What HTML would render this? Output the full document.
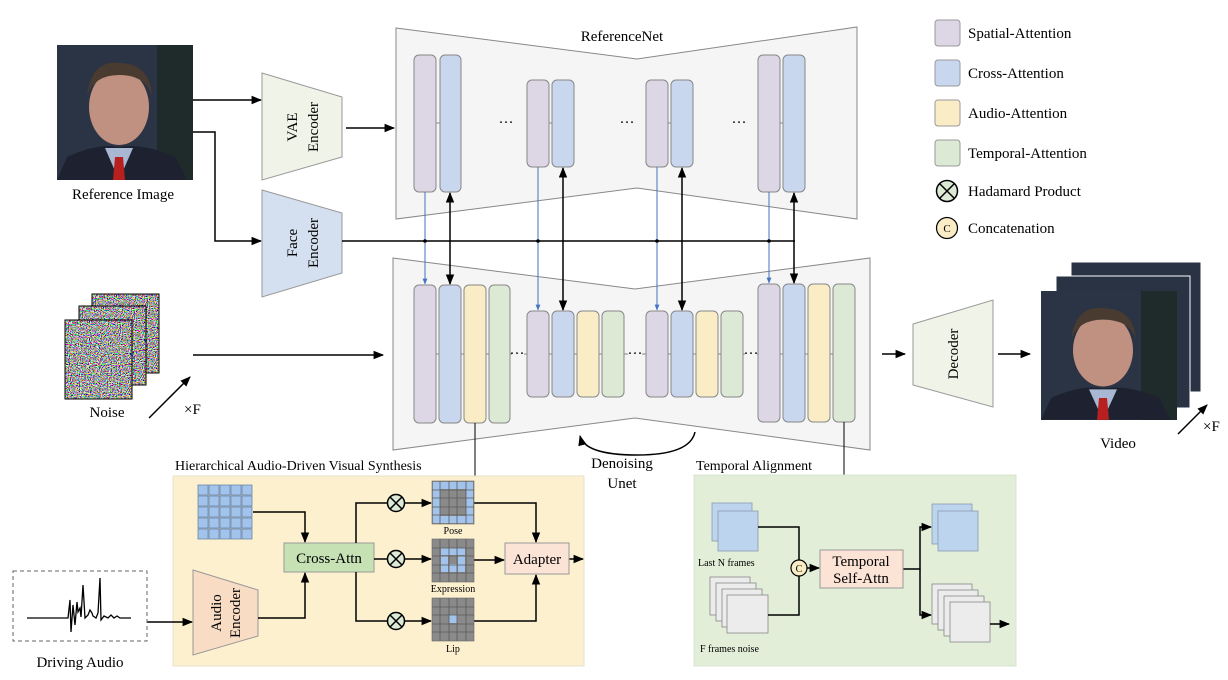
<!DOCTYPE html>
<html><head><meta charset="utf-8"><style>
html,body{margin:0;padding:0;background:#fff;}
svg{display:block;font-family:"Liberation Serif",serif;}
</style></head><body>
<svg width="1228" height="680" viewBox="0 0 1228 680" xmlns="http://www.w3.org/2000/svg">
<defs>
<marker id="ah" viewBox="0 0 10 10" refX="9" refY="5" markerWidth="7" markerHeight="7" orient="auto-start-reverse"><path d="M0,1 L10,5 L0,9 z" fill="#000"/></marker>
<marker id="ab" viewBox="0 0 10 10" refX="9" refY="5" markerWidth="6" markerHeight="6" orient="auto"><path d="M0,1 L10,5 L0,9 z" fill="#4472c4"/></marker>
<filter id="nz" x="0" y="0" width="100%" height="100%"><feTurbulence type="fractalNoise" baseFrequency="0.9" numOctaves="1" seed="3"/><feColorMatrix type="matrix" values="4.5 0 0 0 -1.8  0 4.5 0 0 -1.8  0 0 4.5 0 -1.8  0 0 0 0 1"/></filter>
<g id="photo">
<rect x="0" y="0" width="136" height="135" fill="#2b3445"/>
<rect x="100" y="0" width="36" height="135" fill="#1f2a2a"/>
<ellipse cx="62" cy="62" rx="30" ry="38" fill="#c09080"/>
<path d="M30,50 Q35,15 62,18 Q92,18 95,50 Q88,30 62,30 Q38,30 30,50z" fill="#4a3b30"/>
<path d="M0,135 L10,112 Q40,98 62,102 Q88,98 118,112 L130,135z" fill="#1e2230"/>
<path d="M48,103 L62,135 L76,103z" fill="#a9b8d2"/>
<path d="M58,112 L66,112 L68,135 L56,135z" fill="#b82020"/>
</g>
<g id="ng"><rect width="67" height="79" fill="#777" filter="url(#nz)"/></g>
</defs>

<use href="#photo" x="57" y="45"/>
<text x="123" y="199" font-size="15" text-anchor="middle">Reference Image</text>

<line x1="193" y1="100" x2="261" y2="100" stroke="#000" stroke-width="1.5" marker-end="url(#ah)"/>
<polyline points="193,132 215,132 215,241 261,241" fill="none" stroke="#000" stroke-width="1.5" marker-end="url(#ah)"/>

<polygon points="262,73 342,97 342,157 262,180" fill="#eff3e8" stroke="#999" stroke-width="1"/>
<text transform="translate(297,127) rotate(-90)" font-size="15" text-anchor="middle">VAE</text>
<text transform="translate(318,127) rotate(-90)" font-size="15" text-anchor="middle">Encoder</text>
<line x1="346" y1="128" x2="394" y2="128" stroke="#000" stroke-width="1.5" marker-end="url(#ah)"/>

<polygon points="262,190 342,213 342,273 262,297" fill="#d4e0f0" stroke="#999" stroke-width="1"/>
<text transform="translate(297,243) rotate(-90)" font-size="15" text-anchor="middle">Face</text>
<text transform="translate(318,243) rotate(-90)" font-size="15" text-anchor="middle">Encoder</text>
<line x1="342" y1="241" x2="795" y2="241" stroke="#000" stroke-width="1.5"/>

<polygon points="396,28 637,59 857,27 857,219 637,188 396,219" fill="#f5f5f5" stroke="#888" stroke-width="1"/>
<text x="622" y="41" font-size="15" text-anchor="middle">ReferenceNet</text>
<g stroke="#888" stroke-width="1">
<line x1="436" y1="123" x2="440" y2="123"/><line x1="549" y1="123" x2="552" y2="123"/><line x1="668" y1="123" x2="671" y2="123"/><line x1="780" y1="123" x2="783" y2="123"/>
<rect x="414" y="55" width="22" height="137" rx="5" fill="#ddd6e5"/>
<rect x="440" y="55" width="21" height="137" rx="5" fill="#c8d6ee"/>
<rect x="527" y="80" width="22" height="87" rx="5" fill="#ddd6e5"/>
<rect x="552" y="80" width="22" height="87" rx="5" fill="#c8d6ee"/>
<rect x="646" y="80" width="22" height="87" rx="5" fill="#ddd6e5"/>
<rect x="671" y="80" width="22" height="87" rx="5" fill="#c8d6ee"/>
<rect x="758" y="55" width="22" height="137" rx="5" fill="#ddd6e5"/>
<rect x="783" y="55" width="22" height="137" rx="5" fill="#c8d6ee"/>
</g>
<text x="506" y="127" font-size="15" text-anchor="middle">···</text>
<text x="627" y="127" font-size="15" text-anchor="middle">···</text>
<text x="739" y="127" font-size="15" text-anchor="middle">···</text>

<polygon points="393,258 635,289 870,258 870,450 635,418 393,450" fill="#f5f5f5" stroke="#888" stroke-width="1"/>
<line x1="436" y1="354" x2="833" y2="354" stroke="#888" stroke-width="1"/>
<rect x="512" y="345" width="12" height="18" fill="#f5f5f5"/><rect x="628" y="345" width="14" height="18" fill="#f5f5f5"/><rect x="745" y="345" width="12" height="18" fill="#f5f5f5"/>
<g stroke="#888" stroke-width="1">
<rect x="414" y="285" width="22" height="138" rx="5" fill="#ddd6e5"/>
<rect x="439" y="285" width="22" height="138" rx="5" fill="#c8d6ee"/>
<rect x="464" y="285" width="22" height="138" rx="5" fill="#faedc5"/>
<rect x="489" y="285" width="21" height="138" rx="5" fill="#dce9d4"/>
<rect x="527" y="311" width="22" height="86" rx="5" fill="#ddd6e5"/>
<rect x="552" y="311" width="22" height="86" rx="5" fill="#c8d6ee"/>
<rect x="577" y="311" width="22" height="86" rx="5" fill="#faedc5"/>
<rect x="602" y="311" width="22" height="86" rx="5" fill="#dce9d4"/>
<rect x="646" y="311" width="22" height="86" rx="5" fill="#ddd6e5"/>
<rect x="671" y="311" width="22" height="86" rx="5" fill="#c8d6ee"/>
<rect x="696" y="311" width="22" height="86" rx="5" fill="#faedc5"/>
<rect x="721" y="311" width="22" height="86" rx="5" fill="#dce9d4"/>
<rect x="758" y="284" width="22" height="138" rx="5" fill="#ddd6e5"/>
<rect x="783" y="284" width="22" height="138" rx="5" fill="#c8d6ee"/>
<rect x="808" y="284" width="22" height="138" rx="5" fill="#faedc5"/>
<rect x="833" y="284" width="22" height="138" rx="5" fill="#dce9d4"/>
</g>
<text x="517" y="358" font-size="15" text-anchor="middle">···</text>
<text x="635" y="358" font-size="15" text-anchor="middle">···</text>
<text x="751" y="358" font-size="15" text-anchor="middle">···</text>

<g stroke="#4472c4" stroke-width="1" fill="none">
<line x1="425" y1="192" x2="425" y2="284" marker-end="url(#ab)"/>
<line x1="538" y1="167" x2="538" y2="310" marker-end="url(#ab)"/>
<line x1="657" y1="167" x2="657" y2="310" marker-end="url(#ab)"/>
<line x1="769" y1="192" x2="769" y2="283" marker-end="url(#ab)"/>
</g>
<g stroke="#000" stroke-width="1.5" fill="none">
<line x1="450" y1="193" x2="450" y2="284" marker-start="url(#ah)" marker-end="url(#ah)"/>
<line x1="563" y1="168" x2="563" y2="310" marker-start="url(#ah)" marker-end="url(#ah)"/>
<line x1="682" y1="168" x2="682" y2="310" marker-start="url(#ah)" marker-end="url(#ah)"/>
<line x1="794" y1="193" x2="794" y2="283" marker-start="url(#ah)" marker-end="url(#ah)"/>
</g>
<g fill="#000"><circle cx="425" cy="241" r="1.8"/><circle cx="538" cy="241" r="1.8"/><circle cx="657" cy="241" r="1.8"/><circle cx="769" cy="241" r="1.8"/></g>

<path d="M695,432 Q690,455 637,455 Q585,455 580,436" fill="none" stroke="#000" stroke-width="1.5" marker-end="url(#ah)"/>
<text x="622" y="468" font-size="15" text-anchor="middle">Denoising</text>
<text x="622" y="488" font-size="15" text-anchor="middle">Unet</text>

<use href="#ng" x="92" y="294"/>
<rect x="92" y="294" width="67" height="79" fill="none" stroke="#000"/>
<use href="#ng" x="79" y="306"/>
<rect x="79" y="306" width="67" height="79" fill="none" stroke="#000"/>
<use href="#ng" x="65" y="320"/>
<rect x="65" y="320" width="67" height="79" fill="none" stroke="#000"/>
<text x="107" y="417" font-size="15" text-anchor="middle">Noise</text>
<line x1="149" y1="418" x2="190" y2="377" stroke="#000" stroke-width="1.5" marker-end="url(#ah)"/>
<text x="184" y="414" font-size="15">×F</text>
<line x1="193" y1="355" x2="383" y2="355" stroke="#000" stroke-width="1.5" marker-end="url(#ah)"/>

<line x1="882" y1="354" x2="905" y2="354" stroke="#000" stroke-width="1.5" marker-end="url(#ah)"/>
<polygon points="913,324 993,300 993,407 913,385" fill="#eff3e8" stroke="#999"/>
<text transform="translate(958,354) rotate(-90)" font-size="15" text-anchor="middle">Decoder</text>
<line x1="998" y1="354" x2="1030" y2="354" stroke="#000" stroke-width="1.5" marker-end="url(#ah)"/>

<rect x="1071" y="262" width="130" height="130" fill="#2a3343" stroke="#fff"/>
<rect x="1056" y="276" width="134" height="132" fill="#2a3343" stroke="#fff"/>
<g transform="translate(1041,291) scale(1.0,0.955)"><use href="#photo"/></g>
<text x="1118" y="448" font-size="15" text-anchor="middle">Video</text>
<line x1="1178" y1="434" x2="1207" y2="405" stroke="#000" stroke-width="1.5" marker-end="url(#ah)"/>
<text x="1203" y="431" font-size="15">×F</text>

<g stroke="#999" stroke-width="1">
<rect x="935" y="20" width="25" height="26" rx="3" fill="#ddd6e5"/>
<rect x="935" y="60" width="25" height="26" rx="3" fill="#c8d6ee"/>
<rect x="935" y="100" width="25" height="26" rx="3" fill="#faedc5"/>
<rect x="935" y="140" width="25" height="26" rx="3" fill="#dce9d4"/>
</g>
<circle cx="947" cy="191" r="10.5" fill="#dce9d4" stroke="#000" stroke-width="1.5"/>
<path d="M940,184 L954,198 M954,184 L940,198" stroke="#000" stroke-width="1.5"/>
<circle cx="947" cy="228" r="10.5" fill="#faedc5" stroke="#000" stroke-width="1.2"/>
<text x="947" y="232" font-size="11" text-anchor="middle">C</text>
<g font-size="15">
<text x="968" y="38">Spatial-Attention</text>
<text x="968" y="78">Cross-Attention</text>
<text x="968" y="118">Audio-Attention</text>
<text x="968" y="158">Temporal-Attention</text>
<text x="968" y="196">Hadamard Product</text>
<text x="968" y="233">Concatenation</text>
</g>

<line x1="475" y1="423" x2="475" y2="476" stroke="#000" stroke-width="1"/>
<rect x="173" y="476" width="411" height="190" fill="#fcf0cf" stroke="#e8e0c8"/>
<text x="175" y="470" font-size="14">Hierarchical Audio-Driven Visual Synthesis</text>
<g fill="#a2c4ec" stroke="#6a86a8" stroke-width="0.8">
<rect x="198" y="485" width="10" height="10"/><rect x="209" y="485" width="10" height="10"/><rect x="220" y="485" width="10" height="10"/><rect x="231" y="485" width="10" height="10"/><rect x="242" y="485" width="10" height="10"/>
<rect x="198" y="496" width="10" height="10"/><rect x="209" y="496" width="10" height="10"/><rect x="220" y="496" width="10" height="10"/><rect x="231" y="496" width="10" height="10"/><rect x="242" y="496" width="10" height="10"/>
<rect x="198" y="507" width="10" height="10"/><rect x="209" y="507" width="10" height="10"/><rect x="220" y="507" width="10" height="10"/><rect x="231" y="507" width="10" height="10"/><rect x="242" y="507" width="10" height="10"/>
<rect x="198" y="518" width="10" height="10"/><rect x="209" y="518" width="10" height="10"/><rect x="220" y="518" width="10" height="10"/><rect x="231" y="518" width="10" height="10"/><rect x="242" y="518" width="10" height="10"/>
<rect x="198" y="529" width="10" height="10"/><rect x="209" y="529" width="10" height="10"/><rect x="220" y="529" width="10" height="10"/><rect x="231" y="529" width="10" height="10"/><rect x="242" y="529" width="10" height="10"/>
</g>
<polyline points="253,512 305,512 305,542" fill="none" stroke="#000" stroke-width="1.5" marker-end="url(#ah)"/>
<rect x="284" y="543" width="90" height="29" fill="#c6e2b4" stroke="#999"/>
<text x="329" y="563" font-size="15" text-anchor="middle">Cross-Attn</text>
<polygon points="193,570 258,590 258,636 193,655" fill="#f8dcc4" stroke="#999"/>
<text transform="translate(221,613) rotate(-90)" font-size="15" text-anchor="middle">Audio</text>
<text transform="translate(240,613) rotate(-90)" font-size="15" text-anchor="middle">Encoder</text>
<polyline points="258,618 305,618 305,573" fill="none" stroke="#000" stroke-width="1.5" marker-end="url(#ah)"/>
<line x1="147" y1="622" x2="192" y2="622" stroke="#000" stroke-width="1.5" marker-end="url(#ah)"/>
<g stroke="#000" stroke-width="1.5" fill="none">
<polyline points="356,543 356,503 431,503" marker-end="url(#ah)"/>
<line x1="374" y1="559" x2="431" y2="559" marker-end="url(#ah)"/>
<polyline points="356,572 356,621 431,621" marker-end="url(#ah)"/>
<polyline points="474,503 536,503 536,542" marker-end="url(#ah)"/>
<line x1="474" y1="560" x2="504" y2="560" marker-end="url(#ah)"/>
<polyline points="474,621 536,621 536,575" marker-end="url(#ah)"/>
<line x1="569" y1="559" x2="583" y2="559" marker-end="url(#ah)"/>
</g>
<g fill="#dce9d4" stroke="#000" stroke-width="1.5">
<circle cx="396" cy="503" r="8.5"/><circle cx="396" cy="559" r="8.5"/><circle cx="396" cy="621" r="8.5"/>
</g>
<path d="M390,497 L402,509 M402,497 L390,509 M390,553 L402,565 M402,553 L390,565 M390,615 L402,627 M402,615 L390,627" stroke="#000" stroke-width="1.5"/>
<g stroke="#666" stroke-width="0.6">
<rect x="432" y="481" width="42" height="43" fill="#8a8a8a"/>
<rect x="432" y="539" width="42" height="43" fill="#8a8a8a"/>
<rect x="432" y="598" width="42" height="43" fill="#8a8a8a"/>
</g>
<g fill="#a2c4ec">
<rect x="433" y="482" width="40" height="7"/><rect x="433" y="516" width="40" height="7"/>
<rect x="433" y="482" width="7" height="41"/><rect x="466" y="482" width="7" height="41"/>
<rect x="441" y="548" width="24" height="7"/><rect x="441" y="556" width="7" height="16"/><rect x="458" y="556" width="7" height="16"/><rect x="449" y="564" width="8" height="8"/>
<rect x="449" y="615" width="8" height="8"/>
</g>
<g stroke="#5a5a5a" stroke-width="0.8">
<path d="M440,481V524M449,481V524M457,481V524M466,481V524M432,490H474M432,498H474M432,507H474M432,515H474"/>
<path d="M440,539V582M449,539V582M457,539V582M466,539V582M432,548H474M432,556H474M432,565H474M432,573H474"/>
<path d="M440,598V641M449,598V641M457,598V641M466,598V641M432,607H474M432,615H474M432,624H474M432,632H474"/>
</g>
<text x="453" y="534" font-size="10" text-anchor="middle">Pose</text>
<text x="453" y="592" font-size="10" text-anchor="middle">Expression</text>
<text x="453" y="652" font-size="10" text-anchor="middle">Lip</text>
<rect x="505" y="543" width="64" height="31" fill="#fbe3d6" stroke="#999"/>
<text x="537" y="564" font-size="15" text-anchor="middle">Adapter</text>

<rect x="13" y="571" width="134" height="70" fill="none" stroke="#666" stroke-dasharray="4,3"/>
<polyline points="27,618 68,618 70,600 71,632 73,605 75,625 77,602 78,612 80,608 81,617 83,585 85,618 88,615 90,610 92,613 93,616 96,618 98,613 100,578 101,620 104,616 108,618 111,615 114,618 117,616 120,618 131,618" fill="none" stroke="#000" stroke-width="1.3"/>
<text x="80" y="667" font-size="15" text-anchor="middle">Driving Audio</text>

<line x1="844" y1="422" x2="844" y2="475" stroke="#000" stroke-width="1"/>
<rect x="694" y="475" width="322" height="191" fill="#e2eed8" stroke="#d8e4d0"/>
<text x="696" y="470" font-size="14">Temporal Alignment</text>
<g stroke="#8a9ab0" stroke-width="0.8" fill="#bcd4ee">
<rect x="712" y="503" width="40" height="38"/><rect x="718" y="511" width="40" height="40"/>
<rect x="932" y="504" width="40" height="40"/><rect x="938" y="511" width="40" height="40"/>
</g>
<g stroke="#888" stroke-width="0.8" fill="#ececec">
<rect x="710" y="577" width="40" height="38"/><rect x="716" y="583" width="40" height="38"/><rect x="722" y="589" width="40" height="38"/><rect x="727" y="595" width="41" height="38"/>
<rect x="932" y="584" width="40" height="40"/><rect x="938" y="590" width="40" height="40"/><rect x="944" y="596" width="40" height="40"/><rect x="950" y="602" width="40" height="40"/>
</g>
<text x="698" y="566" font-size="10">Last N frames</text>
<text x="700" y="652" font-size="10">F frames noise</text>
<g stroke="#000" stroke-width="1.5" fill="none">
<polyline points="758,527 799,527 799,560"/>
<polyline points="768,615 799,615 799,576"/>
<line x1="807" y1="568" x2="819" y2="568" marker-end="url(#ah)"/>
<polyline points="903,569 920,569 920,527 931,527" marker-end="url(#ah)"/>
<polyline points="920,569 920,615 931,615" marker-end="url(#ah)"/>
<line x1="990" y1="624" x2="1009" y2="624" marker-end="url(#ah)"/>
</g>
<circle cx="799" cy="568" r="8" fill="#faedc5" stroke="#000" stroke-width="1.2"/>
<text x="799" y="572" font-size="10" text-anchor="middle">C</text>
<rect x="820" y="550" width="83" height="38" fill="#fbe3d6" stroke="#999"/>
<text x="861" y="566" font-size="15" text-anchor="middle">Temporal</text>
<text x="861" y="583" font-size="15" text-anchor="middle">Self-Attn</text>
</svg>
</body></html>
